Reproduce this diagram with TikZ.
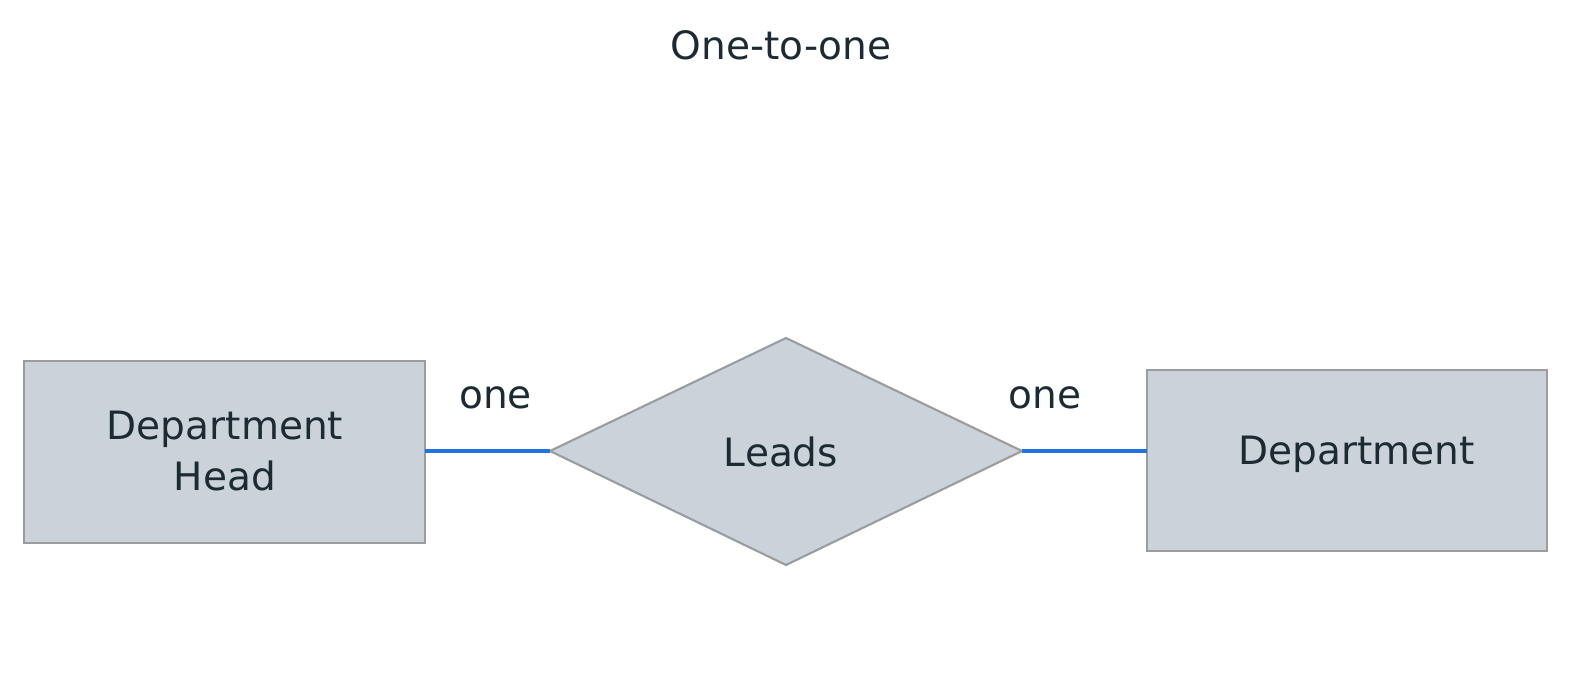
\documentclass[tikz,border=0pt]{standalone}
\usepackage{fontspec}
\setmainfont{DejaVu Sans}
\definecolor{boxfill}{HTML}{CBD2DA}
\definecolor{boxline}{HTML}{9A9C9E}
\definecolor{linkblue}{HTML}{1F74E0}
\definecolor{txt}{HTML}{1C2B33}
\begin{document}
\begin{tikzpicture}[x=0.01cm,y=-0.01cm,
  entity/.style={draw=boxline,fill=boxfill,line width=0.6pt},
  relation/.style={draw=boxline,fill=boxfill,line width=0.6pt},
  link/.style={draw=linkblue,line width=1pt},
  lbl/.style={text=txt,font=\fontsize{11.1}{14.5}\selectfont,align=center,anchor=base,inner sep=0pt}]
\useasboundingbox (0,0) rectangle (1585,691);
\node[lbl] (title) at (781,59.5) {One-to-one};
\draw[entity] (24,361) rectangle (425,543);
\coordinate (hR) at (425,451);
\node[lbl] (head) at (225,490.5) {Department\\Head};
\draw[entity] (1147,370) rectangle (1547,551);
\coordinate (dL) at (1147,451);
\node[lbl] (dept) at (1356.5,464) {Department};
\draw[relation] (550,451) coordinate (lL) -- (786,338) -- (1022,451) coordinate (lR) -- (786,565) -- cycle;
\node[lbl] (leads) at (781,466) {Leads};
\draw[link] (hR) -- (lL);
\draw[link] (lR) -- (dL);
\node[lbl] (one1) at (495.5,408) {one};
\node[lbl] (one2) at (1045,408) {one};
\end{tikzpicture}
\end{document}
